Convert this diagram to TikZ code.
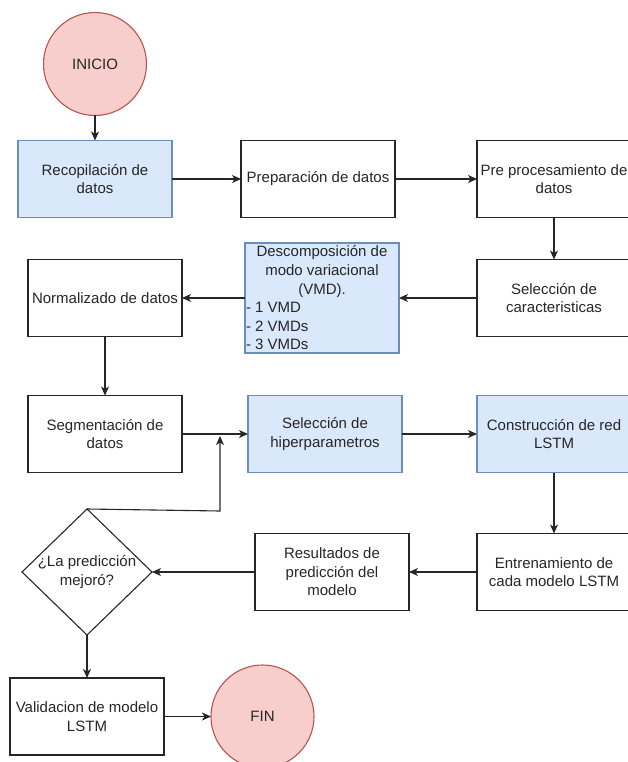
\documentclass[tikz,border=0pt]{standalone}
\usepackage{fontspec}
\setmainfont{Liberation Sans}
\usetikzlibrary{arrows.meta,positioning,shapes.geometric}

\definecolor{termfill}{HTML}{F8CECC}
\definecolor{termline}{HTML}{B85450}
\definecolor{stepfill}{HTML}{DAE8FC}
\definecolor{stepline}{HTML}{6C8EBF}

\begin{document}
\begin{tikzpicture}[x=1pt,y=-1pt,>={Stealth[length=9pt,width=8pt,inset=2.5pt]},
    line width=1.1pt,color=black!85,font=\fontsize{15}{18.6}\selectfont,
    every node/.style={outer sep=0pt},
    proc/.style={rectangle,draw=black!85,minimum width=154pt,minimum height=77pt,inner sep=2pt,align=center},
    procb/.style={proc,draw=stepline,fill=stepfill},
    term/.style={circle,draw=termline,fill=termfill,minimum size=103pt,inner sep=0pt},
    decision/.style={diamond,draw=black!85,aspect=1.03,minimum width=130pt,minimum height=126pt,inner sep=-4pt,align=center}]
    \useasboundingbox (0,0) rectangle (627,762);

    \node[term] (ini) at (95,64) {INICIO};
    \node[procb] (rec) [below=25pt of ini] {Recopilación de\\datos};
    \node[proc] (prep) [right=69pt of rec] {Preparación de datos};
    \node[proc] (pre) [right=82pt of prep] {Pre procesamiento de\\datos};
    \node[proc] (car) [below=42pt of pre] {Selección de\\caracteristicas};
    \node[procb, minimum height=110pt, inner sep=1pt, text width=152pt, align=none] (vmd) [left=78pt of car]
        {{\centering Descomposición de\\modo variacional\\(VMD).\par}\raggedright - 1 VMD\\- 2 VMDs\\- 3 VMDs};
    \node[proc] (norm) [left=63pt of vmd] {Normalizado de datos};
    \node[proc] (seg) [below=59pt of norm] {Segmentación de\\datos};
    \node[procb] (hiper) [right=66pt of seg] {Selección de\\hiperparametros};
    \node[procb] (lstm) [right=75pt of hiper] {Construcción de red\\LSTM};
    \node[proc] (train) [below=61pt of lstm] {Entrenamiento de\\cada modelo LSTM};
    \node[proc] (res) [left=68pt of train] {Resultados de\\predicción del\\modelo};
    \node[decision] (dia) [left=103pt of res] {¿La predicción\\mejoró?};
    \node[proc] (val) [below=43pt of dia] {Validacion de modelo\\LSTM};
    \node[term] (fin) [right=47pt of val] {FIN};

    \coordinate (bend) at (220,511);
    \coordinate (merge) at (220,436);

    \path[->] (ini) edge (rec);
    \path[->] (rec) edge (prep);
    \path[->] (prep) edge (pre);
    \path[->] (pre) edge (car);
    \path[->] (car) edge (vmd);
    \path[->] (vmd) edge (norm);
    \path[->] (norm) edge (seg);
    \path[->] (seg) edge (hiper);
    \path[->] (hiper) edge (lstm);
    \path[->] (lstm) edge (train);
    \path[->] (train) edge (res);
    \path[->] (res) edge (dia);
    \path[->] (dia) edge (val);
    \path[->] (val) edge (fin);
    \draw[->] (dia.north) -- (bend) -- (merge);
\end{tikzpicture}
\end{document}
